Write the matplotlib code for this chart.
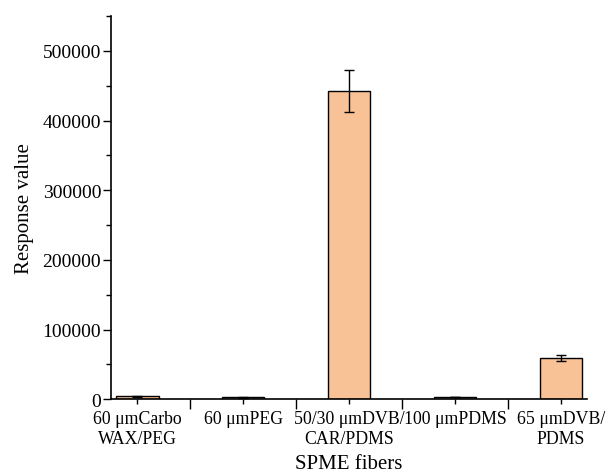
import matplotlib.pyplot as plt
import numpy as np

fibers = ['60 μmCarbo\nWAX/PEG', '60 μmPEG', '50/30 μmDVB/\nCAR/PDMS',
          '100 μmPDMS', '65 μmDVB/\nPDMS']
response = [4000, 2800, 442500, 3300, 58800]
errors = [600, 400, 29500, 500, 4300]

plt.rcParams['font.family'] = ['Liberation Serif', 'DejaVu Serif']
plt.rcParams['font.size'] = 14

fig = plt.figure(figsize=(6.13, 4.77), dpi=100)
ax = fig.add_axes([0.181, 0.161, 0.777, 0.803])

x = np.arange(len(fibers))
ax.bar(x, response, width=0.4, color='#F8C196', edgecolor='black',
       linewidth=1.0, zorder=2)
ax.errorbar(x, response, yerr=errors, fmt='none', ecolor='black',
            elinewidth=1.0, capsize=3.5, capthick=1.0, zorder=3)

ax.set_xlim(-0.25, 4.25)
ax.set_ylim(0, 550000)

# category labels on the centre ticks, longer separators in between
ax.set_xticks(x)
ax.set_xticklabels(fibers, linespacing=1.25, fontsize=12.8)
ax.set_xticks(x[:-1] + 0.5, minor=True)
ax.tick_params(axis='x', which='major', direction='out', length=3.5, width=1.0, pad=4)
ax.tick_params(axis='x', which='minor', direction='out', length=7, width=1.0)

ax.set_yticks(np.arange(0, 500001, 100000))
ax.set_yticks(np.arange(50000, 550001, 100000), minor=True)
ax.tick_params(axis='y', which='major', direction='out', length=6, width=1.0, pad=1)
ax.tick_params(axis='y', which='minor', direction='out', length=3.5, width=1.0)

for side in ['top', 'right']:
    ax.spines[side].set_visible(False)
for side in ['left', 'bottom']:
    ax.spines[side].set_linewidth(1.2)

ax.set_xlabel('SPME fibers', fontsize=15, labelpad=5)
ax.set_ylabel('Response value', fontsize=15, labelpad=6)

fig.savefig('out.png', dpi=100)
